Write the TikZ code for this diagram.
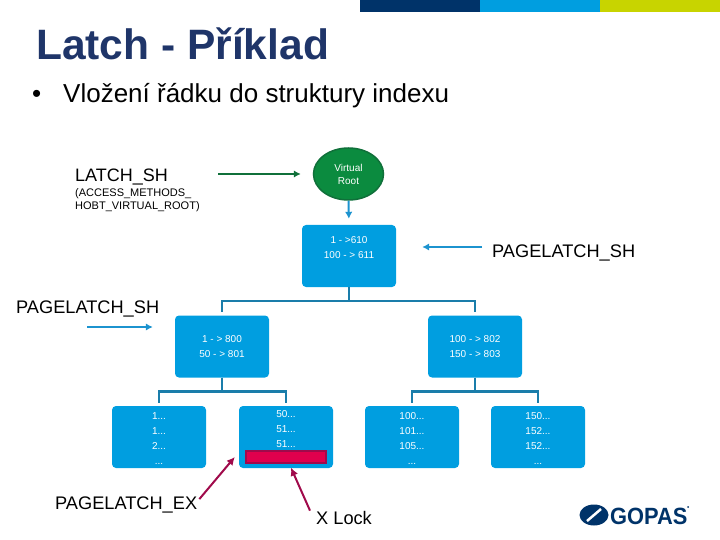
\documentclass[tikz,border=0pt]{standalone}
\usepackage{fontspec}
\usepackage{xcolor}
\setmainfont{Liberation Sans}
\usetikzlibrary{arrows.meta,positioning,shapes.geometric,calc}
\definecolor{gopasnavy}{HTML}{003369}
\definecolor{gopasblue}{HTML}{009EE0}
\definecolor{gopaslime}{HTML}{C8D400}
\definecolor{titleblue}{HTML}{1F3569}
\definecolor{treeblue}{HTML}{1A7DAA}
\definecolor{arrowblue}{HTML}{1C93CF}
\definecolor{rootgreen}{HTML}{0B8B3F}
\definecolor{rootedge}{HTML}{10703A}
\definecolor{lockred}{HTML}{E0004D}
\definecolor{lockedge}{HTML}{A00A4B}
\newcommand{\leaftop}{\rule{0pt}{10pt}}
\tikzset{
    pagebox/.style={rectangle,rounded corners=4pt,fill=gopasblue,text=white,inner sep=0pt,
        minimum width=94pt,minimum height=62pt,align=center,font=\fontsize{10}{15}\selectfont},
    latchlabel/.style={inner sep=0pt,font=\fontsize{18.2}{20}\selectfont},
    treeline/.style={treeblue,line width=2.5pt,shorten >=3pt},
    bluearrow/.style={arrowblue,line width=2pt,-{Latex[length=7pt,width=7.5pt]}},
    greenarrow/.style={rootedge,line width=2pt,-{Latex[length=7pt,width=7.5pt]}},
    redarrow/.style={lockedge,line width=2pt,-{Latex[length=8pt,width=8pt]}}
}
\begin{document}
\begin{tikzpicture}[x=1pt,y=-1pt]
    \useasboundingbox (0,0) rectangle (720,540);
    % top bars
    \fill[gopasnavy] (360,0) rectangle (480,12);
    \fill[gopasblue] (480,0) rectangle (600,12);
    \fill[gopaslime] (600,0) rectangle (720,12);
    % heading
    \node[anchor=base west,inner sep=0pt,text=titleblue,font=\fontsize{42.5}{46}\selectfont\bfseries] (title) at (36,60) {Latch - Příklad};
    \node[anchor=base west,inner sep=0pt,font=\fontsize{26}{28}\selectfont] (bullet) at (32,103) {•};
    \node[anchor=base west,inner sep=0pt,font=\fontsize{26}{28}\selectfont] (subtitle) at (63,103) {Vložení řádku do struktury indexu};
    % tree
    \node[ellipse,draw=rootedge,line width=1.5pt,fill=rootgreen,text=white,inner sep=0pt,minimum width=70pt,minimum height=52pt,align=center,font=\fontsize{10}{13}\selectfont] (virtroot) at (348.5,174) {Virtual\\Root};
    \node[pagebox] (rootpage) at (349,256) {\rule{0pt}{9pt}1 - >610\\100 - > 611\\\strut};
    \node[pagebox] (midleft) at (222,346.5) {1 - > 800\\50 - > 801};
    \node[pagebox] (midright) at (475,346.5) {100 - > 802\\150 - > 803};
    \node[pagebox] (leafa) at (159,437) {\leaftop 1...\\1...\\2...\\...};
    \node[pagebox] (leafb) at (286,437) {\leaftop 50...\\51...\\51...\\\strut};
    \node[pagebox] (leafc) at (412,437) {\leaftop 100...\\101...\\105...\\...};
    \node[pagebox] (leafd) at (538,437) {\leaftop 150...\\152...\\152...\\...};
    \node[rectangle,draw=lockedge,line width=1.5pt,fill=lockred,inner sep=0pt,minimum width=80pt,minimum height=12pt] (lockrow) at (286,457) {};
    % labels
    \node[latchlabel,anchor=base west,font=\fontsize{18}{20}\selectfont] (latchsh) at (75,182) {LATCH\_SH};
    \node[anchor=north west,inner sep=0pt,align=left,font=\fontsize{11}{13}\selectfont] (latchsub) at (75,188) {(ACCESS\_METHODS\_\\HOBT\_VIRTUAL\_ROOT)};
    \node[latchlabel,anchor=base west] (pageshright) at (492,257) {PAGELATCH\_SH};
    \node[latchlabel,anchor=base west] (pageshleft) at (16,313) {PAGELATCH\_SH};
    \node[latchlabel,anchor=base west] (pageex) at (55,509) {PAGELATCH\_EX};
    \node[latchlabel,anchor=base west] (xlock) at (316,524) {X Lock};
    % connectors
    \draw[treeline] (rootpage.south) -- ++(0,14) -| (midleft.north);
    \draw[treeline] (rootpage.south) -- ++(0,14) -| (midright.north);
    \draw[treeline] (midleft.south) -- ++(0,14) -| (leafa.north);
    \draw[treeline] (midleft.south) -- ++(0,14) -| (leafb.north);
    \draw[treeline] (midright.south) -- ++(0,14) -| (leafc.north);
    \draw[treeline] (midright.south) -- ++(0,14) -| (leafd.north);
    \coordinate (latchstart) at (218,174);
    \coordinate (rightstart) at (482,247);
    \coordinate (leftstart) at (87,327);
    \draw[greenarrow,shorten >=12pt] (latchstart) -- (virtroot.west);
    \draw[bluearrow,shorten >=6pt] (virtroot.south) -- (rootpage.north);
    \draw[bluearrow,shorten >=26pt] (rightstart) -- (rightstart -| rootpage.east);
    \draw[bluearrow,shorten >=22pt] (leftstart) -- (leftstart -| midleft.west);
    \draw[redarrow] ($(pageex.north east)+(2,3)$) -- ($(leafb.west)+(-4,20)$);
    \draw[redarrow] ($(xlock.north west)+(-6,0)$) -- ($(lockrow.south)+(5,4)$);
    % logo
    \node[ellipse,fill=gopasnavy,inner sep=0pt,minimum width=29pt,minimum height=21pt] (logomark) at (594,515) {};
    \draw[white,line width=2.5pt] (587,521) -- (601,509);
    \node[anchor=base west,inner sep=0pt,text=gopasnavy,font=\fontsize{23.5}{25}\selectfont\bfseries,xscale=0.93] (logotext) at (610,524) {GOPAS};
    \fill[gopasnavy] (688,507) circle (1pt);
\end{tikzpicture}
\end{document}
